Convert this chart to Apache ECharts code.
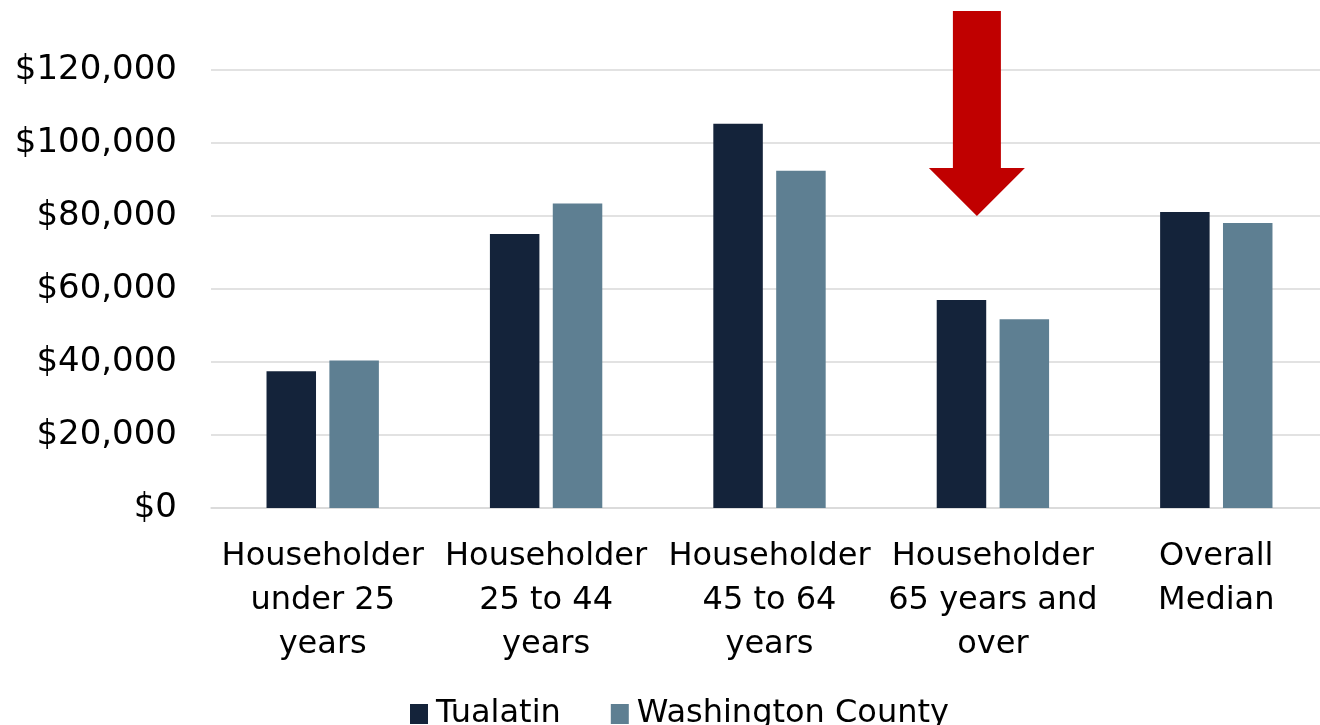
<!DOCTYPE html>
<html>
<head>
<meta charset="utf-8">
<script src="https://cdn.jsdelivr.net/npm/echarts@6/dist/echarts.min.js"></script>
<style>
html,body{margin:0;padding:0;background:#fff;}
#chart{width:1320px;height:725px;}
</style>
</head>
<body>
<div id="chart"></div>
<script>
const categories = [
  "Householder\nunder 25\nyears",
  "Householder\n25 to 44\nyears",
  "Householder\n45 to 64\nyears",
  "Householder\n65 years and\nover",
  "Overall\nMedian"
];
const tualatin = [37500, 75100, 105300, 57000, 81100];
const washingtonCounty = [40400, 83400, 92400, 51700, 78100];
const yTicks = [0, 20000, 40000, 60000, 80000, 100000, 120000];

const FONT = "DejaVu Sans";
const chart = echarts.init(document.getElementById('chart'), null, {renderer: 'canvas'});
const option = {
  animation: false,
  backgroundColor: '#ffffff',
  textStyle: {fontFamily: FONT},
  grid: {left: 211, top: 70, width: 1117, bottom: 217, containLabel: false, outerBoundsMode: 'none'},
  legend: {
    left: 405, top: 693,
    itemWidth: 18, itemHeight: 20, itemGap: 50,
    icon: 'rect',
    textStyle: {fontFamily: FONT, fontSize: 32, color: '#000', padding: [0, 0, 0, 3]},
    data: ['Tualatin', 'Washington County']
  },
  xAxis: {
    type: 'category',
    data: categories,
    axisTick: {show: false},
    axisLine: {show: true, lineStyle: {color: '#D9D9D9', width: 1.5}},
    axisLabel: {
      interval: 0, margin: 27, color: '#000',
      fontFamily: FONT, fontSize: 32, lineHeight: 44
    }
  },
  yAxis: {
    type: 'value',
    min: yTicks[0], max: yTicks[yTicks.length - 1], interval: 20000,
    axisLine: {show: false}, axisTick: {show: false},
    splitLine: {lineStyle: {color: '#D9D9D9', width: 1.5}},
    axisLabel: {
      margin: 34, color: '#000', fontFamily: FONT, fontSize: 34,
      formatter: v => '$' + v.toLocaleString('en-US')
    }
  },
  series: [
    {name: 'Tualatin', type: 'bar', data: tualatin, barWidth: 49.5, barGap: '27%',
     itemStyle: {color: '#14233A'}},
    {name: 'Washington County', type: 'bar', data: washingtonCounty, barWidth: 49.5, barGap: '27%',
     itemStyle: {color: '#5E7F92'}}
  ]
};
chart.setOption(option);

// Annotation arrow pointing down at the "65 years and over" group
const tip = chart.convertToPixel({xAxisIndex: 0, yAxisIndex: 0}, [3, 80000]);
const tx = tip[0] - 16, ty = tip[1];
chart.setOption({
  graphic: [{
    type: 'polygon',
    shape: {points: [
      [tx - 24, 11], [tx + 24, 11], [tx + 24, ty - 48], [tx + 48, ty - 48],
      [tx, ty], [tx - 48, ty - 48], [tx - 24, ty - 48]
    ]},
    style: {fill: '#C00000'},
    z: 100
  }]
});
</script>
</body>
</html>
